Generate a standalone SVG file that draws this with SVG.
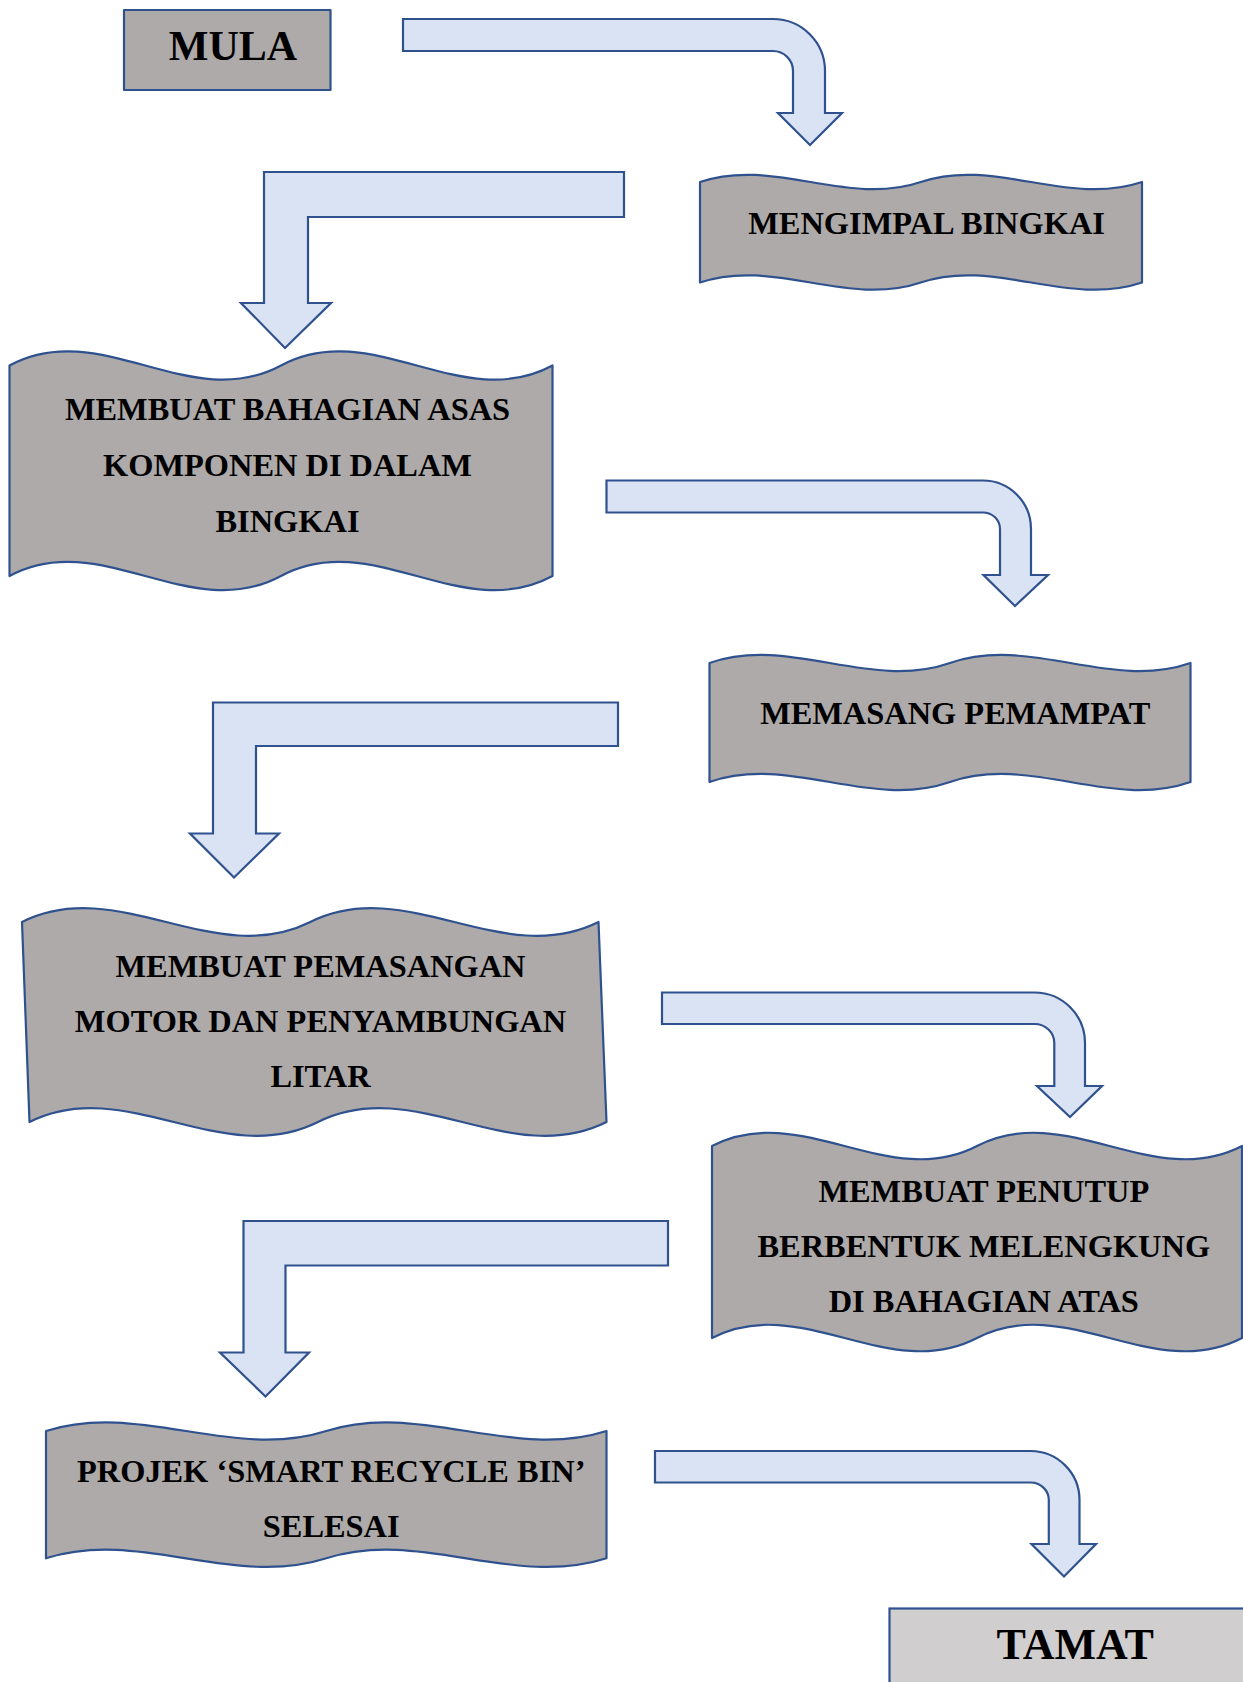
<svg xmlns="http://www.w3.org/2000/svg" width="1243" height="1682" viewBox="0 0 1243 1682">
<style>
.node{fill:#AEAAAA;stroke:#2F528F;stroke-width:2.2;stroke-linejoin:round}
.end{fill:#D0CECE;stroke:#2F528F;stroke-width:2.2}
.arr{fill:#DAE3F3;stroke:#2F528F;stroke-width:2.2;stroke-linejoin:miter}
text{font-family:"Liberation Serif","Times New Roman",serif;font-weight:bold;fill:#000;text-anchor:middle}
.t32{font-size:32.4px}
.t42{font-size:42px}
.t44{font-size:44px}
</style>
<rect width="1243" height="1682" fill="#fff"/>
<g id="connectors">
<path class="arr" d="M403,19 L773,19 A52,52 0 0 1 825,71 L825,113 L842,113 L810,145 L778,113 L793,113 L793,71 A20,20 0 0 0 773,51 L403,51 Z"/>
<path class="arr" d="M624,172 L264,172 L264,303 L241,303 L285,348 L331,303 L308,303 L308,217 L624,217 Z"/>
<path class="arr" d="M606.5,480.5 L983,480.5 A48,48.5 0 0 1 1031,529 L1031,575 L1048,575 L1015,606 L983.5,575 L1000,575 L1000,529 A17,16.5 0 0 0 983,512.5 L606.5,512.5 Z"/>
<path class="arr" d="M618,702.5 L213,702.5 L213,833.5 L190,833.5 L234,877.5 L279,833.5 L256,833.5 L256,746 L618,746 Z"/>
<path class="arr" d="M662,992.5 L1034.5,992.5 A50.5,50.5 0 0 1 1085,1043 L1085,1086 L1102,1086 L1070,1117 L1037,1086 L1054.3,1086 L1054.3,1043 A19.8,19 0 0 0 1034.5,1024 L662,1024 Z"/>
<path class="arr" d="M668,1221 L243.5,1221 L243.5,1352.5 L220,1352.5 L265.5,1396.5 L309,1352.5 L285.5,1352.5 L285.5,1265.5 L668,1265.5 Z"/>
<path class="arr" d="M655,1451 L1030.5,1451 A49,49 0 0 1 1079.5,1500 L1079.5,1544 L1096,1544 L1064,1576.5 L1031.5,1544 L1048.8,1544 L1048.8,1500 A18.3,17.5 0 0 0 1030.5,1482.5 L655,1482.5 Z"/>
</g>
<g id="mula">
<rect class="node" x="124" y="10" width="206.5" height="80"/>
<text class="t42" x="233" y="60">MULA</text>
</g>
<g id="mengimpal">
<path class="node" d="M700,182 C773.6,157 847.2,207 920.8,182 C994.3,157 1067.9,207 1142,182 L1142,282.5 C1067.9,307.5 994.3,257.5 920.8,282.5 C847.2,307.5 773.6,257.5 700,282.5 Z"/>
<text class="t32" x="926.6" y="233.5">MENGIMPAL BINGKAI</text>
</g>
<g id="bahagian-asas">
<path class="node" d="M9.5,365.5 C100,316.5 190.5,414.5 281,365.5 C371.5,316.5 462,414.5 552.5,365.5 L552.5,576 C462,625 371.5,527 281,576 C190.5,625 100,527 9.5,576 Z"/>
<text class="t32" x="287.5" y="420.4">MEMBUAT BAHAGIAN ASAS</text>
<text class="t32" x="287.5" y="476.4">KOMPONEN DI DALAM</text>
<text class="t32" x="287.5" y="531.8">BINGKAI</text>
</g>
<g id="pemampat">
<path class="node" d="M709.5,663 C789.7,635 869.8,691 950,663 C1030.2,635 1110.3,691 1190.5,663 L1190.5,782 C1110.3,810 1030.2,754 950,782 C869.8,810 789.7,754 709.5,782 Z"/>
<text class="t32" x="955.2" y="724">MEMASANG PEMAMPAT</text>
</g>
<g id="motor">
<path class="node" d="M22,922 C118.1,874 214.2,970 310.3,922 C406.3,874 502.4,970 598.5,922 L606.5,1122 C510.3,1170 414.2,1074 318,1122 C221.8,1170 125.7,1074 29.5,1122 Z"/>
<text class="t32" x="320.5" y="977">MEMBUAT PEMASANGAN</text>
<text class="t32" x="320.5" y="1031.7">MOTOR DAN PENYAMBUNGAN</text>
<text class="t32" x="320.5" y="1087">LITAR</text>
</g>
<g id="penutup">
<path class="node" d="M712,1146 C800.3,1100 888.7,1192 977,1146 C1065.3,1100 1153.7,1192 1242,1146 L1242,1338 C1153.7,1384 1065.3,1292 977,1338 C888.7,1384 800.3,1292 712,1338 Z"/>
<text class="t32" x="983.8" y="1201.7">MEMBUAT PENUTUP</text>
<text class="t32" x="983.8" y="1256.7">BERBENTUK MELENGKUNG</text>
<text class="t32" x="983.8" y="1312.3">DI BAHAGIAN ATAS</text>
</g>
<g id="selesai">
<path class="node" d="M46,1431 C139.4,1401 232.8,1461 326.3,1431 C419.7,1401 513.1,1461 606.5,1431 L606.5,1558.3 C513.1,1588.3 419.7,1528.3 326.3,1558.3 C232.8,1588.3 139.4,1528.3 46,1558.3 Z"/>
<text class="t32" x="331.2" y="1481.7">PROJEK ‘SMART RECYCLE BIN’</text>
<text class="t32" x="331.2" y="1536.7">SELESAI</text>
</g>
<g id="tamat">
<rect class="end" x="889.5" y="1608.5" width="400" height="120"/>
<text class="t44" x="1075.2" y="1659">TAMAT</text>
</g>
</svg>
